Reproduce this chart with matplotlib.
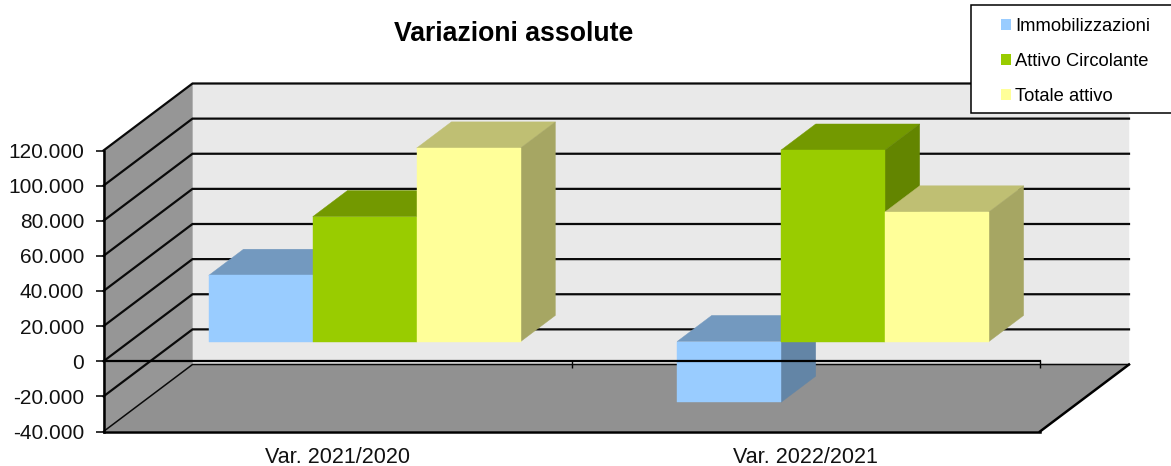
import numpy as np
import matplotlib
matplotlib.use("Agg")
import matplotlib.pyplot as plt
from matplotlib.patches import Patch, Polygon, Rectangle
from matplotlib.ticker import FuncFormatter

plt.rcParams['font.family'] = ['Liberation Sans', 'DejaVu Sans']

categories = ["Var. 2021/2020", "Var. 2022/2021"]
immobilizzazioni = [37700, -34600]
attivo_circolante = [71100, 109000]
totale_attivo = [110200, 73800]
series_names = ["Immobilizzazioni", "Attivo Circolante", "Totale attivo"]
y_ticks = [-40000, -20000, 0, 20000, 40000, 60000, 80000, 100000, 120000]

# how far one full unit of depth moves a point, in data units
DX = 89 / 468.25
DY = 38150
BAR_W = 0.222
GAP = 0.169
D_FRONT = 0.294
D_BACK = 0.684


def shift(x, y, d):
    return (x + d * DX, y + d * DY)


def face(ax, pts, color, z):
    ax.add_patch(Polygon(pts, closed=True, facecolor=color, edgecolor=color,
                         lw=0.3, clip_on=False, zorder=z))


def shade(color, k):
    rgb = matplotlib.colors.to_rgb(color)
    return tuple(c * k for c in rgb)


def bar3d(ax, x0, val, color, z):
    x1 = x0 + BAR_W
    lo, hi = min(0, val), max(0, val)
    # top
    face(ax, [shift(x0, hi, D_FRONT), shift(x1, hi, D_FRONT),
              shift(x1, hi, D_BACK), shift(x0, hi, D_BACK)], shade(color, 0.75), z)
    # side
    face(ax, [shift(x1, lo, D_FRONT), shift(x1, hi, D_FRONT),
              shift(x1, hi, D_BACK), shift(x1, lo, D_BACK)], shade(color, 0.65), z)
    # front
    face(ax, [shift(x0, lo, D_FRONT), shift(x1, lo, D_FRONT),
              shift(x1, hi, D_FRONT), shift(x0, hi, D_FRONT)], color, z)


W, H = 1171, 466
fig = plt.figure(figsize=(W / 100, H / 100), dpi=100)
ax = fig.add_axes([103.5 / W, (H - 431.5) / H, 936.5 / W, 281 / H])
ax.set_xlim(0, 2)
ax.set_ylim(-40000, 120000)
ax.patch.set_visible(False)

ymin, ymax = -40000, 120000
# walls and floor
face(ax, [shift(0, ymin, 1), shift(2, ymin, 1), shift(2, ymax, 1), shift(0, ymax, 1)], "#e9e9e9", 1)
face(ax, [shift(0, ymin, 0), shift(0, ymin, 1), shift(0, ymax, 1), shift(0, ymax, 0)], "#969696", 1.1)
face(ax, [shift(0, ymin, 0), shift(2, ymin, 0), shift(2, ymin, 1), shift(0, ymin, 1)], "#919191", 1.2)

# gridlines, along the left wall then the back wall
for v in y_ticks:
    x_a, y_a = shift(0, v, 0)
    x_b, y_b = shift(0, v, 1)
    x_c, y_c = shift(2, v, 1)
    lw = 1.1 if v == ymin else 1.6
    ax.plot([x_a, x_b, x_c], [y_a, y_b, y_c], color="#0a0a0a", lw=lw, clip_on=False,
            solid_joinstyle="miter", zorder=2)
x_a, y_a = shift(2, ymin, 0)
x_b, y_b = shift(2, ymin, 1)
ax.plot([x_a, x_b], [y_a, y_b], color="black", lw=1.8, clip_on=False, zorder=2)
ax.plot([0, 2], [ymin, ymin], color="black", lw=1.8, clip_on=False, zorder=2)

colors = ["#99ccff", "#99cc00", "#ffff99"]
all_series = [immobilizzazioni, attivo_circolante, totale_attivo]
for i in range(len(categories)):
    for j, vals in enumerate(all_series):
        bar3d(ax, i + GAP + j * BAR_W, vals[i], colors[j], 3 + j * 0.1)

# value axis
ax.set_yticks(y_ticks)
ax.yaxis.set_major_formatter(FuncFormatter(lambda v, p: f"{int(v):,}".replace(",", ".")))
ax.tick_params(axis="y", length=6, width=1.2, pad=8, labelsize=15, colors="#111111")

# category axis crosses at zero
ax.spines["top"].set_visible(False)
ax.spines["right"].set_visible(False)
ax.spines["left"].set_linewidth(1.8)
ax.spines["bottom"].set_position(("data", 0))
ax.spines["bottom"].set_linewidth(1.6)
ax.spines["bottom"].set_zorder(5)
ax.set_xticks([1, 2])
ax.set_xticklabels([])
ax.tick_params(axis="x", length=5, width=1, direction="out")
for i, c in enumerate(categories):
    ax.text(i + 0.5, -48600, c, ha="center", va="top", fontsize=15.5, color="#111111")

fig.text(513.5 / W, 1 - 34 / H, "Variazioni assolute", ha="center", va="center",
         fontsize=19.2, fontweight="bold", color="black")

# legend box runs off the right edge of the picture
fig.add_artist(Rectangle((970.5 / W, 1 - 113 / H), 205 / W, 107.5 / H, transform=fig.transFigure,
                         facecolor="white", edgecolor="black", lw=1.1, zorder=10))
handles = [Patch(facecolor=c, edgecolor="none", label=n) for c, n in zip(colors, series_names)]
leg = fig.legend(handles=handles, loc="upper left", bbox_to_anchor=(1001 / W, 1 - 18 / H),
                 frameon=False, fontsize=13.2, borderpad=0, borderaxespad=0, labelspacing=0.98,
                 handlelength=0.55, handleheight=0.55, handletextpad=0.22)
leg.set_zorder(11)

fig.savefig("out.png", dpi=100)
